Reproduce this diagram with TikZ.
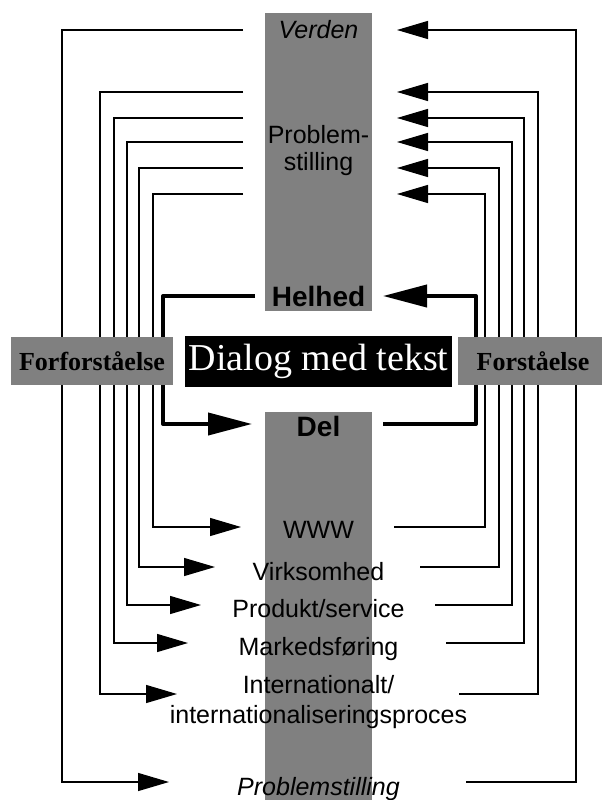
\documentclass[tikz,border=0pt]{standalone}
\usepackage{fontspec}
\setmainfont{Liberation Sans}
\newfontfamily\tnrfont{Liberation Serif}
\usetikzlibrary{arrows.meta}
\definecolor{colgray}{RGB}{128,128,128}
\tikzset{
  conn/.style={line width=1.3pt, line join=miter},
  arr/.style={conn, -{Triangle[length=31pt,width=18pt]}},
  loopline/.style={line width=4pt, line join=round},
  looparr/.style={loopline, -{Triangle[length=44pt,width=22pt]}},
  lbl/.style={font=\fontsize{25}{30}\selectfont, inner sep=0pt, anchor=base},
  boldlbl/.style={font=\fontsize{28}{32}\selectfont\bfseries, inner sep=0pt, anchor=base},
  colbox/.style={fill=colgray, draw=none, inner sep=0pt},
  sidebox/.style={fill=colgray, draw=none, inner sep=0pt, minimum height=48pt,
    font=\tnrfont\bfseries\fontsize{26}{30}\selectfont},
  dialogbox/.style={fill=black, draw=none, inner sep=0pt, text=white,
    minimum width=267pt, minimum height=51pt, font=\tnrfont\fontsize{38}{44}\selectfont}
}
\begin{document}
\begin{tikzpicture}[x=1pt,y=-1pt]
\useasboundingbox (0,0) rectangle (602,800);
% gray column
\node[colbox, minimum width=107pt, minimum height=298pt] (coltop) at (318.5,162) {};
\node[colbox, minimum width=107pt, minimum height=388pt] (colbot) at (318.5,606) {};
% thin connectors
\foreach \i/\xl/\xr/\yt/\yb/\tipl/\startr in {1/62/576/30/782/169/466, 2/100/538/92/694/177/459, 3/114/524/118/643/188/446, 4/127/512/142/605/201/435, 5/139/499/168/567/215/420, 6/153/485/194/527/241/394}{
  \coordinate (lt\i) at (243,\yt);
  \coordinate (lb\i) at (\tipl,\yb);
  \coordinate (rt\i) at (397,\yt);
  \coordinate (rb\i) at (\startr,\yb);
  \draw[arr] (lt\i) -| (\xl,\yb) -- (lb\i);
  \draw[arr] (rb\i) -| (\xr,\yt) -- (rt\i);
}
% thick loop
\coordinate (hl) at (255,296);
\coordinate (dl) at (252,424);
\coordinate (dr) at (383,424);
\coordinate (hr) at (383,296);
\draw[looparr] (hl) -| (163,424) -- (dl);
\draw[looparr] (dr) -| (476,296) -- (hr);
% side boxes and dialog
\node[sidebox, minimum width=162pt] (forfor) at (92,361) {Forforståelse};
\node[sidebox, minimum width=145pt] (forst) at (530,361) {\hspace*{6pt}Forståelse};
\node[dialogbox] (dialog) at (318.5,361.5) {Dialog med tekst};
% labels
\node[lbl] (verden) at (318.5,39) {\itshape Verden};
\node[lbl] (prob1) at (318.5,143) {Problem-};
\node[lbl] (prob2) at (318.5,170) {stilling};
\node[boldlbl] (helhed) at (318.5,306) {Helhed};
\node[boldlbl] (del) at (318.5,436) {Del};
\node[lbl] (www) at (318.5,538) {WWW};
\node[lbl] (virk) at (318.5,580) {Virksomhed};
\node[lbl] (prod) at (318.5,617) {Produkt/service};
\node[lbl] (mark) at (318.5,655) {Markedsføring};
\node[lbl] (int1) at (318.5,693) {Internationalt/};
\node[lbl] (int2) at (318.5,723) {internationaliseringsproces};
\node[lbl] (probbot) at (318.5,795) {\itshape Problemstilling};
\end{tikzpicture}
\end{document}
